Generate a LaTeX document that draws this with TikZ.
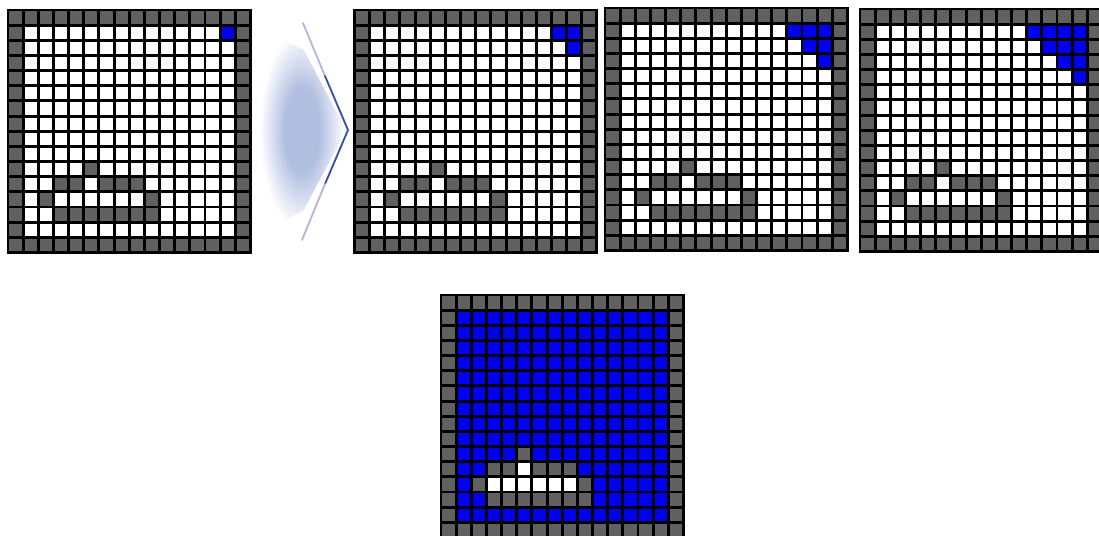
\documentclass[tikz,border=0pt]{standalone}
\usepackage{tikz}
\usetikzlibrary{positioning}
\definecolor{wallgray}{RGB}{96, 96, 96}
\definecolor{floodblue}{RGB}{0, 0, 240}
\definecolor{arrowfill}{RGB}{176, 190, 224}
\definecolor{arrowline}{RGB}{55, 78, 165}

\pgfdeclareradialshading{chevglow}{\pgfpoint{0bp}{0bp}}{%
	color(0bp)=(arrowfill); color(10bp)=(arrowfill);
	color(24bp)=(white); color(50bp)=(white)}

% one 16x16 room map: origin x, origin y, painted cells
\newcommand{\roommap}[3]{%
	\begin{scope}[shift={(#1,#2)}, x=0.37875cm, y=-0.37875cm]
		\fill[white] (0,0) rectangle (16,16);
		#3
		\fill[wall] (0,0) rectangle (16,1);
		\fill[wall] (0,15) rectangle (16,16);
		\fill[wall] (0,0) rectangle (1,16);
		\fill[wall] (15,0) rectangle (16,16);
		\fill[wall] (5,10) rectangle (6,11);
		\fill[wall] (3,11) rectangle (5,12);
		\fill[wall] (6,11) rectangle (9,12);
		\fill[wall] (2,12) rectangle (3,13);
		\fill[wall] (9,12) rectangle (10,13);
		\fill[wall] (3,13) rectangle (10,14);
		\foreach \i in {0,...,16} {
			\draw[cellline] (\i,0) -- (\i,16);
			\draw[cellline] (0,\i) -- (16,\i);
		}
	\end{scope}}

\begin{document}
\begin{tikzpicture}[x=0.025cm, y=-0.025cm,
		wall/.style={fill=wallgray},
		flood/.style={fill=floodblue},
		cellline/.style={draw=black, line width=2.1pt, line cap=rect},
		chevedge/.style={line width=1.3pt, line cap=round}]
	
	\clip (0,0) rectangle (1099,535);
	
	% start
	\roommap{8}{10}{\fill[flood] (14,1) rectangle (15,2);}
	
	% chevron
	\shade[shading=chevglow]
		(258,26) -- (304,50) -- (346,130) -- (304,210) -- (258,234) -- cycle;
	\draw[chevedge, arrowline!40] (303,23) -- (325,76);
	\draw[chevedge, arrowline] (325,76) -- (348,130) -- (325,184);
	\draw[chevedge, arrowline!40] (325,184) -- (302,240);
	
	% fill steps
	\roommap{354.5}{10}{\fill[flood] (13,1) rectangle (15,2);
		\fill[flood] (14,2) rectangle (15,3);}
	\roommap{605}{8}{\fill[flood] (12,1) rectangle (15,2);
		\fill[flood] (13,2) rectangle (15,3);
		\fill[flood] (14,3) rectangle (15,4);}
	\roommap{860}{9}{\fill[flood] (11,1) rectangle (15,2);
		\fill[flood] (12,2) rectangle (15,3);
		\fill[flood] (13,3) rectangle (15,4);
		\fill[flood] (14,4) rectangle (15,5);}
	
	% result
	\roommap{441}{295}{\fill[flood] (1,1) rectangle (15,15);
		\fill[white] (3,12) rectangle (9,13);
		\fill[white] (5,11) rectangle (6,12);}
\end{tikzpicture}
\end{document}
